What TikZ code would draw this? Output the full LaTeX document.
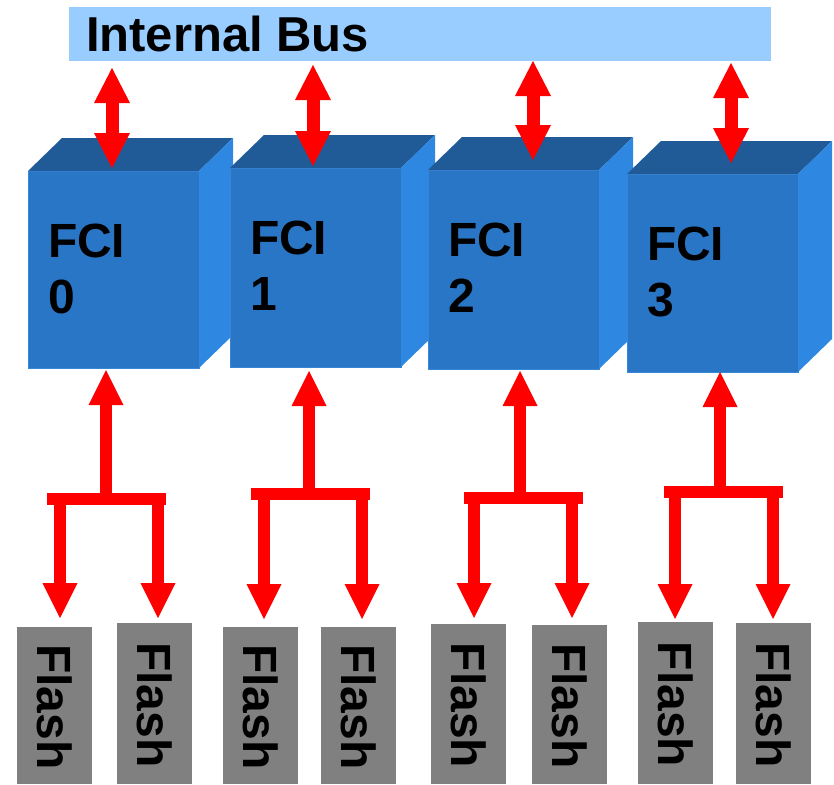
\documentclass[tikz,border=0pt]{standalone}
\usepackage{fontspec}
\setmainfont{Liberation Sans}
\usetikzlibrary{arrows.meta}
\definecolor{busblue}{RGB}{153,204,255}
\definecolor{frontblue}{RGB}{42,118,198}
\definecolor{topblue}{RGB}{32,91,152}
\definecolor{sideblue}{RGB}{46,135,224}
\definecolor{edgeblue}{RGB}{56,134,214}
\definecolor{flashgray}{RGB}{128,128,128}
\definecolor{arrowred}{RGB}{255,0,0}
\begin{document}
\begin{tikzpicture}[x=1pt,y=-1pt,
  txt/.style={font=\bfseries\fontsize{48}{56}\selectfont, text=black, inner sep=0pt, outer sep=0pt},
  bus/.style={fill=busblue, draw=none, inner sep=0pt, outer sep=0pt, anchor=north west, minimum width=702pt, minimum height=54pt},
  front/.style={fill=frontblue, draw=edgeblue, line width=1pt, inner sep=0pt, outer sep=0pt, anchor=north west, minimum width=171pt},
  topface/.style={fill=topblue},
  sideface/.style={fill=sideblue},
  flash/.style={rotate=-90, minimum width=157pt, minimum height=75pt, inner sep=0pt, outer sep=0pt, font=\bfseries\fontsize{48}{56}\selectfont, text=black},
  dbl/.style={draw=arrowred, line width=13pt, {Triangle[length=35pt,width=36pt,line width=0pt]}-{Triangle[length=35pt,width=36pt,line width=0pt]}},
  uparrow/.style={draw=arrowred, line width=12pt, -{Triangle[length=35pt,width=35pt,line width=0pt]}},
  forkbar/.style={draw=arrowred, line width=12pt},
]
\useasboundingbox (0,0) rectangle (834,784);

% internal bus
\node[bus] (bus) at (69,7) {};
\node[txt, font=\bfseries\fontsize{49}{56}\selectfont, anchor=base west] (bustext) at (86,52) {Internal Bus};

% FCI cubes
\foreach \n/\x/\y/\h in {0/28/171/197, 1/230/168/199, 2/428/170/199, 3/627/174/198}{
  \node[front, minimum height=\h pt] (c\n) at (\x,\y) {};
  \fill[topface] (c\n.north west) -- ++(34,-33) -- ++(171,0) -- (c\n.north east) -- cycle;
  \fill[sideface] (c\n.north east) -- ++(34,-33) -- ++(0,\h) -- (c\n.south east) -- cycle;
  \node[txt, anchor=north west, align=left] (l\n) at ([xshift=20pt,yshift=-53pt]c\n.north west) {FCI\\\n};
}

% flash chips
\foreach \n/\x/\y in {0a/17/627, 0b/117/623, 1a/223/627, 1b/321/627, 2a/431/624, 2b/532/625, 3a/638/622, 3b/736/623}{
  \path[fill=flashgray] (\x,\y) rectangle ++(75,784-\y);
}
\node[flash] (f0a) at (54.5,707) {Flash};
\node[flash] (f0b) at (154.5,705) {Flash};
\node[flash] (f1a) at (260.5,707) {Flash};
\node[flash] (f1b) at (358.5,707) {Flash};
\node[flash] (f2a) at (468.5,705.5) {Flash};
\node[flash] (f2b) at (569.5,706) {Flash};
\node[flash] (f3a) at (675.5,704.5) {Flash};
\node[flash] (f3b) at (773.5,705) {Flash};

% double arrows between the bus and the cubes
\foreach \n/\x/\a/\b in {0/112/68/168, 1/313/65/166, 2/533/61/160, 3/731/63/163}{
  \coordinate (ta\n) at (\x,\a);
  \coordinate (tb\n) at (\x,\b);
  \draw[dbl] (ta\n) -- (tb\n);
}

% fork arrows: up x, up tip, bar y, bar left, bar right, left leg, right leg, tips
\foreach \n/\u/\ut/\by/\bl/\br/\la/\lb/\lt in {0/106/370/499/47/166/60/158/618, 1/309/371/493.5/251/370/264/362/619, 2/520/371/497.5/464/583/474/572/618, 3/720/372/491.5/664/783/675/773/619}{
  \coordinate (bl\n) at (\bl,\by);
  \coordinate (br\n) at (\br,\by);
  \coordinate (jm\n) at (\u,\by-6);
  \coordinate (ju\n) at (\u,\ut);
  \coordinate (ja\n) at (\la,\by);
  \coordinate (jb\n) at (\lb,\by);
  \coordinate (ea\n) at (\la,\lt);
  \coordinate (eb\n) at (\lb,\lt);
  \draw[forkbar] (bl\n) -- (br\n);
  \draw[uparrow] (jm\n) -- (ju\n);
  \draw[uparrow] (ja\n) -- (ea\n);
  \draw[uparrow] (jb\n) -- (eb\n);
}
\end{tikzpicture}
\end{document}
